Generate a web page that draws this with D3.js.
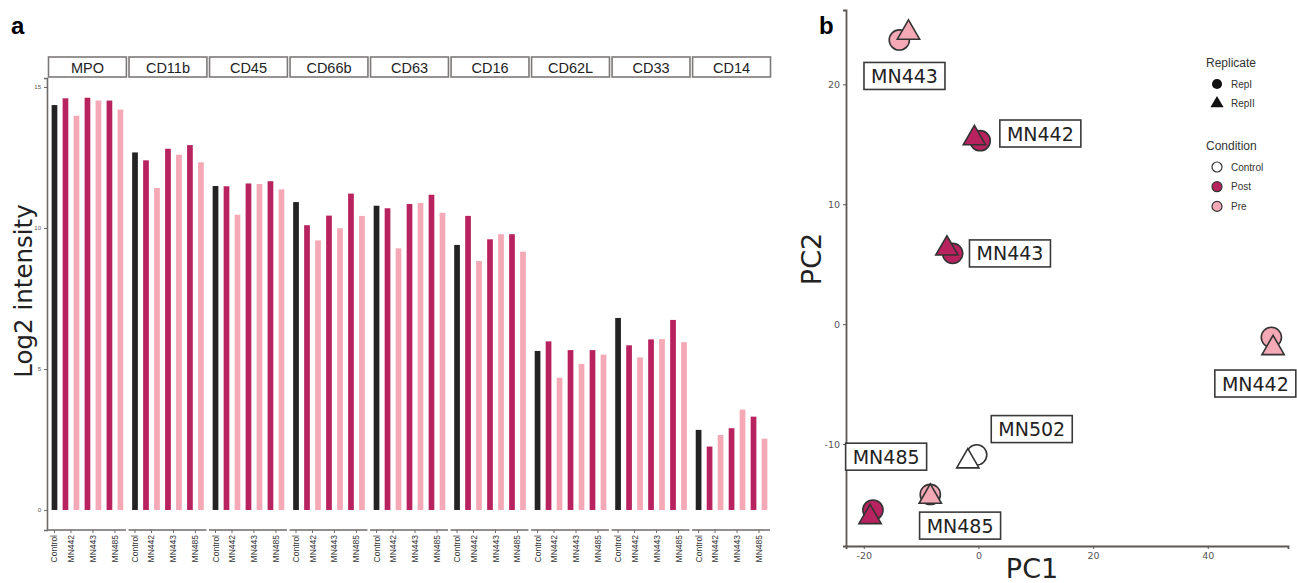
<!DOCTYPE html>
<html>
<head>
<meta charset="utf-8">
<script src="https://cdn.jsdelivr.net/npm/d3@7"></script>
<style>
  body { margin: 0; background: #ffffff; }
  svg { display: block; }
</style>
</head>
<body>
<div class="chart-container"></div>
<script>
// --- Data ---

// panel a: markers (facets) and the bar groups inside each facet
const markers = ["MPO", "CD11b", "CD45", "CD66b", "CD63", "CD16", "CD62L", "CD33", "CD14"];
const barKeys = ["Control", "MN442 Post", "MN442 Pre", "MN443 Post", "MN443 Pre", "MN485 Post", "MN485 Pre"];
const barCondition = ["Control", "Post", "Pre", "Post", "Pre", "Post", "Pre"];
const xTickLabels = ["Control", "MN442", "MN443", "MN485"];

// log2 intensity per marker, same order as barKeys
const mpo   = [14.36, 14.60, 13.98, 14.62, 14.52, 14.52, 14.20];
const cd11b = [12.68, 12.40, 11.42, 12.81, 12.60, 12.94, 12.33];
const cd45  = [11.49, 11.48, 10.47, 11.58, 11.56, 11.66, 11.37];
const cd66b = [10.92, 10.10, 9.56, 10.44, 9.99, 11.22, 10.43];
const cd63  = [10.79, 10.70, 9.28, 10.85, 10.89, 11.18, 10.54];
const cd16  = [9.40, 10.43, 8.83, 9.60, 9.78, 9.78, 9.16];
const cd62l = [5.64, 5.98, 4.69, 5.67, 5.18, 5.67, 5.51];
const cd33  = [6.81, 5.84, 5.41, 6.05, 6.06, 6.74, 5.95];
const cd14  = [2.84, 2.25, 2.66, 2.90, 3.56, 3.31, 2.53];
const intensity = [mpo, cd11b, cd45, cd66b, cd63, cd16, cd62l, cd33, cd14];
const yTicksA = [0, 5, 10, 15];

// panel b: PCA points
const pcSample    = ["MN443", "MN443", "MN442", "MN442", "MN443", "MN443", "MN442", "MN442", "MN502", "MN502", "MN485", "MN485", "MN485", "MN485"];
const pcCondition = ["Pre", "Pre", "Post", "Post", "Post", "Post", "Pre", "Pre", "Control", "Control", "Pre", "Pre", "Post", "Post"];
const pcReplicate = ["RepI", "RepII", "RepI", "RepII", "RepI", "RepII", "RepI", "RepII", "RepI", "RepII", "RepI", "RepII", "RepI", "RepII"];
const pc1 = [-13.8, -12.2, 0.3, -0.7, -4.5, -5.5, 51.1, 51.4, -0.3, -1.85, -8.4, -8.4, -18.4, -18.9];
const pc2 = [23.7, 24.3, 15.3, 15.5, 5.9, 6.3, -1.1, -2.0, -10.9, -11.45, -14.2, -14.4, -15.5, -16.1];

// repelled label positions (data units)
const labelText = ["MN443", "MN442", "MN443", "MN442", "MN502", "MN485", "MN485"];
const labelPC1  = [-12.9, 10.8, 5.5, 48.3, 9.3, -16.1, -3.2];
const labelPC2  = [20.7, 15.9, 5.9, -4.95, -8.75, -11.05, -16.8];

const xTicksB = [-20, 0, 20, 40];
const yTicksB = [-10, 0, 10, 20];

const replicates = ["RepI", "RepII"];
const conditions = ["Control", "Post", "Pre"];

// --- Config ---
const w = 1297;
const h = 583;
const colors = { Control: "#232323", Post: "#b8235f", Pre: "#f5a8b5" };
const pointFill = { Control: "#ffffff", Post: "#b8235f", Pre: "#f5a8b5" };
const axisColor = "#6e6a68";
const sans = "Liberation Sans, Arial, sans-serif";
const dejavu = "DejaVu Sans, sans-serif";

const svg = d3.select(".chart-container")
    .append("svg")
    .attr("width", w)
    .attr("height", h);

// panel letters
svg.append("text").attr("x", 11).attr("y", 34).text("a")
    .attr("font-family", sans).attr("font-weight", "bold").attr("font-size", "24px");
svg.append("text").attr("x", 819).attr("y", 34).text("b")
    .attr("font-family", sans).attr("font-weight", "bold").attr("font-size", "24px");

// ===================== Panel a =====================

const facetScale = d3.scaleBand()
    .domain(markers)
    .range([48, 771])
    .paddingInner(0.02);

const barScale = d3.scaleBand()
    .domain(barKeys)
    .range([0, facetScale.bandwidth()])
    .paddingInner(0.48)
    .paddingOuter(0.33);

const yA = d3.scaleLinear()
    .domain([-0.71, 15.32])
    .range([530, 78]);

// y axis
const yAxisA = d3.axisLeft(yA).tickValues(yTicksA).tickSize(3).tickFormat(d3.format("d"));
const gyA = svg.append("g")
    .attr("transform", "translate(47,0)")
    .call(yAxisA);
gyA.select(".domain").attr("stroke", axisColor).attr("stroke-width", 1.6);
gyA.selectAll(".tick line").attr("stroke", axisColor);
gyA.selectAll(".tick text").attr("font-size", "6px").attr("fill", "#555").attr("font-family", sans);

svg.append("text")
    .attr("transform", "translate(32,291) rotate(-90)")
    .attr("text-anchor", "middle")
    .attr("font-family", dejavu)
    .attr("font-size", "24.5px")
    .attr("fill", "#222")
    .text("Log2 intensity");

// one group per facet
const facets = svg.selectAll("g.facet")
    .data(markers)
    .enter()
    .append("g")
    .attr("class", "facet")
    .attr("transform", function (d) { return "translate(" + facetScale(d) + ",0)"; });

// strip header
facets.append("rect")
    .attr("x", 0.5)
    .attr("y", 57)
    .attr("width", facetScale.bandwidth() - 1)
    .attr("height", 20)
    .attr("fill", "#ffffff")
    .attr("stroke", "#7d7979")
    .attr("stroke-width", 1.6);

facets.append("text")
    .attr("x", facetScale.bandwidth() / 2)
    .attr("y", 72.5)
    .attr("text-anchor", "middle")
    .attr("font-family", sans)
    .attr("font-size", "14.5px")
    .attr("fill", "#222")
    .text(function (d) { return d; });

// bars
facets.selectAll("rect.bar")
    .data(function (d, i) {
        return intensity[i].map(function (v, j) { return { key: barKeys[j], cond: barCondition[j], value: v }; });
    })
    .enter()
    .append("rect")
    .attr("class", "bar")
    .attr("x", function (d) { return barScale(d.key); })
    .attr("y", function (d) { return yA(d.value); })
    .attr("width", barScale.bandwidth())
    .attr("height", function (d) { return yA(0) - yA(d.value); })
    .attr("fill", function (d) { return colors[d.cond]; });

// x axis per facet: ticks at Control and between Post/Pre pairs
const tickPos = [
    barScale("Control") + barScale.bandwidth() / 2,
    (barScale("MN442 Post") + barScale("MN442 Pre")) / 2 + barScale.bandwidth() / 2,
    (barScale("MN443 Post") + barScale("MN443 Pre")) / 2 + barScale.bandwidth() / 2,
    (barScale("MN485 Post") + barScale("MN485 Pre")) / 2 + barScale.bandwidth() / 2
];
const xInner = d3.scaleOrdinal().domain(xTickLabels).range(tickPos);

facets.each(function () {
    const g = d3.select(this);
    g.append("line")
        .attr("x1", 0).attr("x2", facetScale.bandwidth() - 1)
        .attr("y1", 530).attr("y2", 530)
        .attr("stroke", axisColor).attr("stroke-width", 1.6);
    const t = g.selectAll("g.xt")
        .data(xTickLabels)
        .enter()
        .append("g")
        .attr("class", "xt")
        .attr("transform", function (d) { return "translate(" + xInner(d) + ",530)"; });
    t.append("line").attr("y1", 0).attr("y2", 3).attr("stroke", axisColor);
    t.append("text")
        .attr("transform", "translate(3,5) rotate(-90)")
        .attr("text-anchor", "end")
        .attr("font-family", sans)
        .attr("font-size", "8.5px")
        .attr("fill", "#333")
        .text(function (d) { return d; });
});

// ===================== Panel b =====================

const xB = d3.scaleLinear().domain([-23.1, 54]).range([846, 1288]);
const yB = d3.scaleLinear().domain([-18.5, 26.2]).range([546, 10]);

const gxB = svg.append("g")
    .attr("transform", "translate(0,546)")
    .call(d3.axisBottom(xB).tickValues(xTicksB).tickSize(3).tickFormat(function (d) { return String(d); }));
const gyB = svg.append("g")
    .attr("transform", "translate(846,0)")
    .call(d3.axisLeft(yB).tickValues(yTicksB).tickSize(3).tickFormat(function (d) { return String(d); }));
[gxB, gyB].forEach(function (g) {
    g.select(".domain").attr("stroke", "#5d5755").attr("stroke-width", 1.8);
    g.selectAll(".tick line").attr("stroke", "#5d5755");
    g.selectAll(".tick text").attr("font-size", "9.5px").attr("fill", "#555").attr("font-family", dejavu);
});

svg.append("text")
    .attr("x", 1032).attr("y", 578)
    .attr("text-anchor", "middle")
    .attr("font-family", dejavu)
    .attr("font-size", "27px")
    .attr("fill", "#222")
    .text("PC1");

svg.append("text")
    .attr("transform", "translate(821,259) rotate(-90)")
    .attr("text-anchor", "middle")
    .attr("font-family", dejavu)
    .attr("font-size", "27px")
    .attr("fill", "#222")
    .text("PC2");

const points = pc1.map(function (v, i) {
    return { sample: pcSample[i], cond: pcCondition[i], rep: pcReplicate[i], x: v, y: pc2[i] };
});

const circleSym = d3.symbol().type(d3.symbolCircle).size(320);
const triSym = d3.symbol().type(d3.symbolTriangle).size(215);

// circles first, triangles on top
svg.selectAll("path.pt")
    .data(points.filter(function (d) { return d.rep === "RepI"; }).concat(points.filter(function (d) { return d.rep === "RepII"; })))
    .enter()
    .append("path")
    .attr("class", "pt")
    .attr("transform", function (d) { return "translate(" + xB(d.x) + "," + yB(d.y) + ")"; })
    .attr("d", function (d) { return d.rep === "RepI" ? circleSym() : triSym(); })
    .attr("fill", function (d) { return pointFill[d.cond]; })
    .attr("stroke", "#333")
    .attr("stroke-width", 1.6);

// labels in boxes
const labels = svg.selectAll("g.lbl")
    .data(labelText)
    .enter()
    .append("g")
    .attr("class", "lbl")
    .attr("transform", function (d, i) { return "translate(" + xB(labelPC1[i]) + "," + yB(labelPC2[i]) + ")"; });

labels.append("rect")
    .attr("x", -40.5).attr("y", -13.5)
    .attr("width", 81).attr("height", 27)
    .attr("fill", "#ffffff")
    .attr("stroke", "#3a3a3a")
    .attr("stroke-width", 1.6);

labels.append("text")
    .attr("y", 7)
    .attr("text-anchor", "middle")
    .attr("font-family", dejavu)
    .attr("font-size", "19px")
    .attr("fill", "#222")
    .text(function (d) { return d; });

// legend
svg.append("text").attr("x", 1206).attr("y", 67).text("Replicate")
    .attr("font-family", sans).attr("font-size", "12px").attr("fill", "#333");

const repLegend = svg.selectAll("g.repl")
    .data(replicates)
    .enter()
    .append("g")
    .attr("class", "repl")
    .attr("transform", function (d, i) { return "translate(1217," + (84 + i * 19.5) + ")"; });
repLegend.append("path")
    .attr("d", function (d) {
        return d === "RepI" ? d3.symbol().type(d3.symbolCircle).size(80)() : d3.symbol().type(d3.symbolTriangle).size(75)();
    })
    .attr("fill", "#111");
repLegend.append("text")
    .attr("x", 14).attr("y", 3.5)
    .attr("font-family", sans).attr("font-size", "10px").attr("fill", "#333")
    .text(function (d) { return d; });

svg.append("text").attr("x", 1206).attr("y", 150).text("Condition")
    .attr("font-family", sans).attr("font-size", "12px").attr("fill", "#333");

const condLegend = svg.selectAll("g.condl")
    .data(conditions)
    .enter()
    .append("g")
    .attr("class", "condl")
    .attr("transform", function (d, i) { return "translate(1217," + (167 + i * 19.7) + ")"; });
condLegend.append("circle")
    .attr("r", 5)
    .attr("fill", function (d) { return pointFill[d]; })
    .attr("stroke", "#333")
    .attr("stroke-width", 1.2);
condLegend.append("text")
    .attr("x", 14).attr("y", 3.5)
    .attr("font-family", sans).attr("font-size", "10px").attr("fill", "#333")
    .text(function (d) { return d; });
</script>
</body>
</html>
